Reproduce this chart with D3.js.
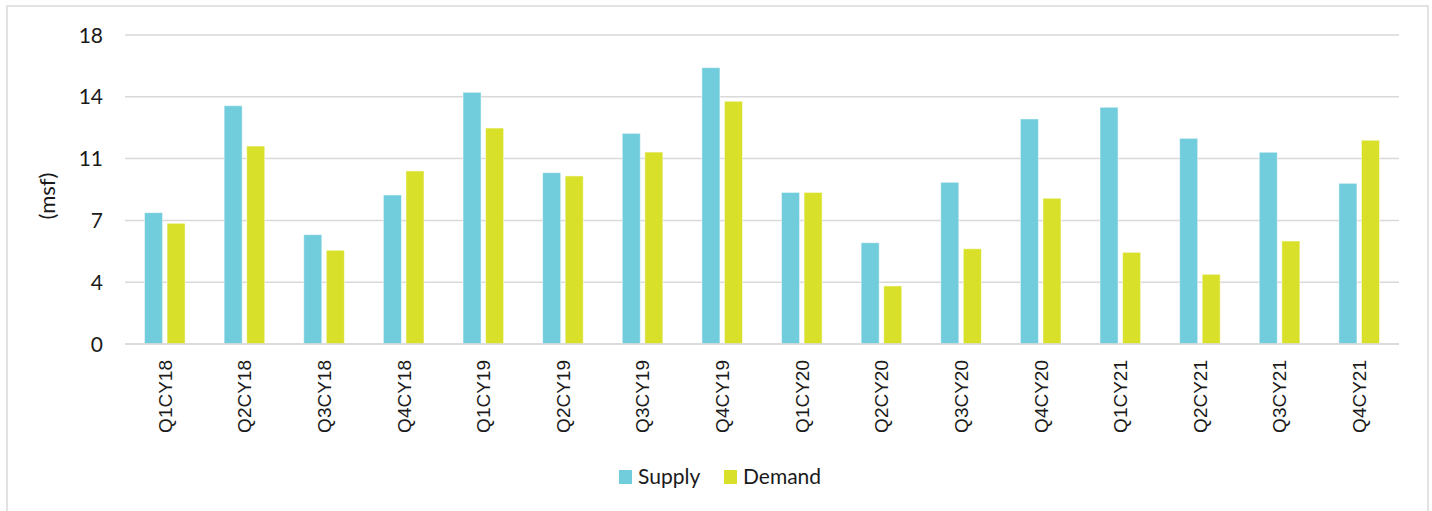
<!DOCTYPE html>
<html>
<head>
<meta charset="utf-8">
<script src="https://cdn.jsdelivr.net/npm/d3@7/dist/d3.min.js"></script>
<style>
  html, body { margin: 0; padding: 0; background: #fff; }
  svg { display: block; }
</style>
</head>
<body>
<svg id="chart" width="1432" height="511"></svg>
<script>
// Quarterly office supply vs demand (million sq ft)
const categories = ["Q1CY18","Q2CY18","Q3CY18","Q4CY18","Q1CY19","Q2CY19","Q3CY19","Q4CY19",
                    "Q1CY20","Q2CY20","Q3CY20","Q4CY20","Q1CY21","Q2CY21","Q3CY21","Q4CY21"];
const supply = [7.65, 13.88, 6.37, 8.68, 14.66, 9.98, 12.27, 16.10, 8.83, 5.90, 9.42, 13.11, 13.79, 11.98, 11.17, 9.36];
const demand = [7.03, 11.53, 5.46, 10.08, 12.58, 9.79, 11.18, 14.14, 8.83, 3.38, 5.55, 8.49, 5.34, 4.06, 6.00, 11.87];
const seriesNames = ["Supply", "Demand"];
const yTicks = [0, 3.6, 7.2, 10.8, 14.4, 18];
const yTitle = "(msf)";

const colors = { Supply: "#71CCDB", Demand: "#D8E02A" };

const svg = d3.select("#chart");
const plot = { left: 125, right: 1399, top: 35, bottom: 344 };

// Outer chart frame
svg.append("rect")
  .attr("x", 7).attr("y", 6)
  .attr("width", 1421).attr("height", 520)
  .attr("fill", "#fff")
  .attr("stroke", "#d9d9d9").attr("stroke-width", 1.5);

const y = d3.scaleLinear().domain([0, 18]).range([plot.bottom, plot.top]);

const x0 = d3.scaleBand().domain(categories)
  .range([plot.left, plot.right])
  .paddingInner(0.49).paddingOuter(0.245);
const x1 = d3.scaleBand().domain(seriesNames)
  .range([0, x0.bandwidth()]).paddingInner(0.2);

// Gridlines
svg.append("g").selectAll("line").data(yTicks).join("line")
  .attr("x1", plot.left).attr("x2", plot.right)
  .attr("y1", d => y(d)).attr("y2", d => y(d))
  .attr("stroke", "#d9d9d9").attr("stroke-width", 1.5);

// Y tick labels
svg.append("g").selectAll("text").data(yTicks).join("text")
  .attr("x", 103).attr("y", d => y(d))
  .attr("dy", "0.36em")
  .attr("text-anchor", "end")
  .attr("font-family", "Lato, 'Open Sans', sans-serif")
  .attr("font-size", 21)
  .attr("fill", "#1a1a1a")
  .text(d => d3.format(".0f")(d));

// Y axis title
svg.append("text")
  .attr("transform", "translate(47,196) rotate(-90)")
  .attr("text-anchor", "middle")
  .attr("dy", "0.35em")
  .attr("font-family", "Lato, 'Open Sans', sans-serif")
  .attr("font-size", 22)
  .attr("fill", "#1a1a1a")
  .text(yTitle);

// Bars
const rows = categories.map((c, i) => ({ cat: c, Supply: supply[i], Demand: demand[i] }));
const groups = svg.append("g").selectAll("g").data(rows).join("g")
  .attr("transform", d => `translate(${x0(d.cat)},0)`);
groups.selectAll("rect")
  .data(d => seriesNames.map(s => ({ key: s, value: d[s] })))
  .join("rect")
  .attr("x", d => x1(d.key))
  .attr("width", x1.bandwidth())
  .attr("y", d => y(d.value))
  .attr("height", d => y(0) - y(d.value))
  .attr("fill", d => colors[d.key])
  .attr("stroke", "#fff").attr("stroke-opacity", 0.5).attr("stroke-width", 1);

// Baseline
svg.append("line")
  .attr("x1", plot.left).attr("x2", plot.right)
  .attr("y1", y(0)).attr("y2", y(0))
  .attr("stroke", "#d9d9d9").attr("stroke-width", 1.5);

// Category labels (rotated)
svg.append("g").selectAll("text").data(categories).join("text")
  .attr("transform", d => `translate(${x0(d) + x0.bandwidth() / 2},360) rotate(-90)`)
  .attr("text-anchor", "end")
  .attr("dy", "0.36em")
  .attr("font-family", "'Liberation Sans', Arial, sans-serif")
  .attr("font-size", 19)
  .attr("fill", "#1a1a1a")
  .text(d => d);

// Legend
const legendItems = [
  { key: "Supply", x: 619 },
  { key: "Demand", x: 724 }
];
const lg = svg.append("g").selectAll("g").data(legendItems).join("g")
  .attr("transform", d => `translate(${d.x},470)`);
lg.append("rect")
  .attr("width", 13).attr("height", 14)
  .attr("fill", d => colors[d.key]);
lg.append("text")
  .attr("x", 19).attr("y", 14)
  .attr("font-family", "Lato, 'Open Sans', sans-serif")
  .attr("font-size", 21)
  .attr("fill", "#1a1a1a")
  .text(d => d.key);
</script>
</body>
</html>
